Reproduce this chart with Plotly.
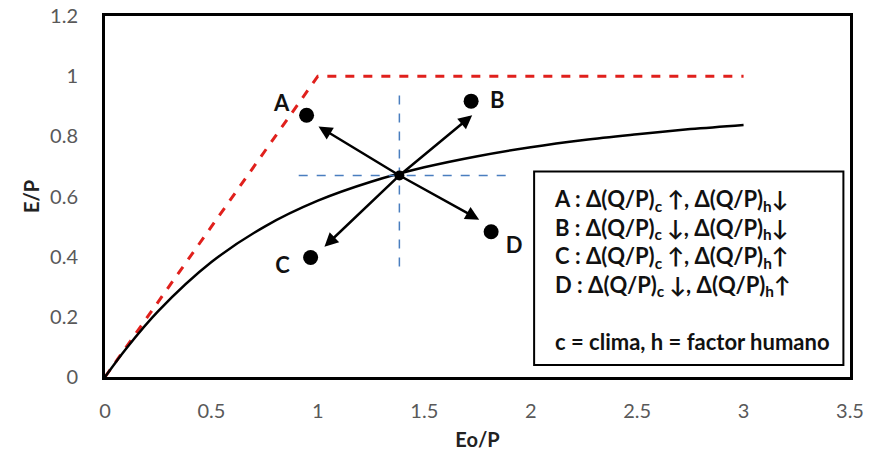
import plotly.graph_objects as go

# Curve
curve_x = [0, 0.1, 0.25, 0.5, 0.75, 1.0, 1.25, 1.5, 1.75, 2.0, 2.25, 2.5, 2.75, 3.0]
curve_y = [0, 0.095, 0.219, 0.382, 0.50, 0.586, 0.649, 0.697, 0.734, 0.764, 0.788, 0.807, 0.824, 0.838]

# Limit (red dashed)
limit_x = [0, 1, 3]
limit_y = [0, 1, 1]

# Points
pt_names = ["A", "B", "C", "D"]
pt_x = [0.947, 1.72, 0.966, 1.814]
pt_y = [0.87, 0.917, 0.397, 0.483]
tip_x = [1.003, 1.725, 1.031, 1.758]
tip_y = [0.833, 0.87, 0.433, 0.523]
lbl_x = [0.83, 1.843, 0.834, 1.922]
lbl_y = [0.903, 0.913, 0.363, 0.43]

center_x = 1.383
center_y = 0.67

hline_x = [0.91, 1.894]
vline_y = [0.367, 0.94]

legend_lines = [
    "A : Δ(Q/P)<sub>c</sub> ↑, Δ(Q/P)<sub>h</sub>↓",
    "B : Δ(Q/P)<sub>c</sub> ↓, Δ(Q/P)<sub>h</sub>↓",
    "C : Δ(Q/P)<sub>c</sub> ↑, Δ(Q/P)<sub>h</sub>↑",
    "D : Δ(Q/P)<sub>c</sub> ↓, Δ(Q/P)<sub>h</sub>↑",
    "",
    "c = clima, h = factor humano",
]

FONT = "Lato, 'Open Sans', sans-serif"

fig = go.Figure()
fig.add_trace(go.Scatter(x=limit_x, y=limit_y, mode="lines",
                         line=dict(color="#e0201c", width=3, dash="dash"), hoverinfo="skip"))
fig.add_trace(go.Scatter(x=curve_x, y=curve_y, mode="lines", line_shape="spline",
                         line=dict(color="black", width=2.5), hoverinfo="skip"))
fig.add_trace(go.Scatter(x=hline_x, y=[center_y, center_y], mode="lines",
                         line=dict(color="#4a7ebf", width=1.5, dash="dash"), hoverinfo="skip"))
fig.add_trace(go.Scatter(x=[center_x, center_x], y=vline_y, mode="lines",
                         line=dict(color="#4a7ebf", width=1.5, dash="dash"), hoverinfo="skip"))
fig.add_trace(go.Scatter(x=pt_x, y=pt_y, mode="markers",
                         marker=dict(color="black", size=15), hoverinfo="skip"))
fig.add_trace(go.Scatter(x=[center_x], y=[center_y], mode="markers",
                         marker=dict(color="black", size=10), hoverinfo="skip"))
fig.add_trace(go.Scatter(x=lbl_x, y=lbl_y, mode="text",
                         text=["<b>" + n + "</b>" for n in pt_names],
                         textfont=dict(family=FONT, size=22, color="#111111"),
                         hoverinfo="skip"))

for tx, ty in zip(tip_x, tip_y):
    fig.add_annotation(x=tx, y=ty, ax=center_x, ay=center_y, xref="x", yref="y",
                       axref="x", ayref="y", showarrow=True, arrowhead=2,
                       arrowsize=1.1, arrowwidth=2.5, arrowcolor="black", text="")

# legend box
fig.add_shape(type="rect", xref="x", yref="y", x0=2.016, x1=3.469, y0=0.04, y1=0.683,
              line=dict(color="black", width=2), fillcolor="white")
fig.add_annotation(xref="x", yref="y", x=2.10, y=0.355, xanchor="left", yanchor="middle",
                   showarrow=False, align="left",
                   text="<b>" + "<br>".join(legend_lines) + "</b>",
                   font=dict(family=FONT, size=22, color="#111111"))

fig.update_layout(
    width=876, height=468,
    margin=dict(l=105, r=26, t=16, b=91, autoexpand=False),
    paper_bgcolor="white", plot_bgcolor="white",
    showlegend=False,
    font=dict(family=FONT, size=20, color="#595959"),
)
fig.update_xaxes(range=[0, 3.5], tickvals=[0, 0.5, 1, 1.5, 2, 2.5, 3, 3.5],
                 ticktext=["0", "0.5", "1", "1.5", "2", "2.5", "3", "3.5"],
                 showgrid=False, zeroline=False, showline=True, mirror=True,
                 linewidth=3, linecolor="black", ticks="", ticklabelstandoff=14,
                 automargin=False,
                 title=dict(text="<b>Eo/P</b>", font=dict(family=FONT, size=20, color="#222222"),
                            standoff=12))
fig.update_yaxes(range=[0, 1.2], tickvals=[0, 0.2, 0.4, 0.6, 0.8, 1, 1.2],
                 ticktext=["0", "0.2", "0.4", "0.6", "0.8", "1", "1.2"],
                 showgrid=False, zeroline=False, showline=True, mirror=True,
                 linewidth=3, linecolor="black", ticks="", ticklabelstandoff=20,
                 automargin=False,
                 title=dict(text="<b>E/P</b>", font=dict(family=FONT, size=20, color="#222222"),
                            standoff=6))

fig.write_html("out.html")
